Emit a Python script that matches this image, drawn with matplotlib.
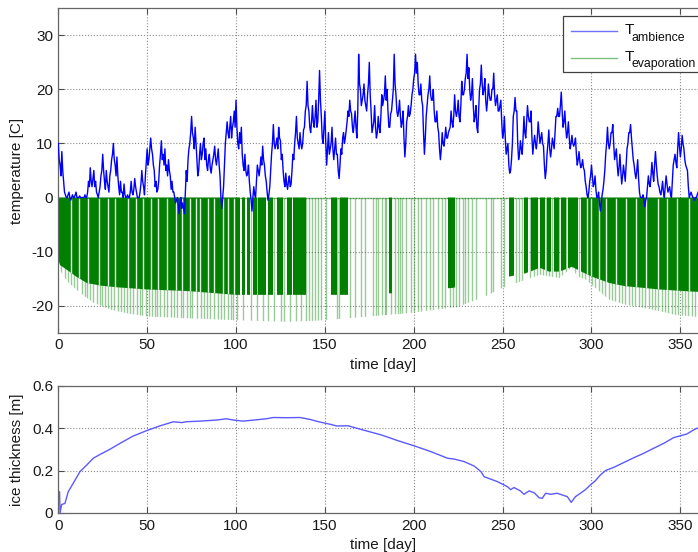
import numpy as np
import matplotlib
matplotlib.use("Agg")
import matplotlib.pyplot as plt
from matplotlib.patches import Polygon, Rectangle
from matplotlib.lines import Line2D

plt.rcParams['font.family'] = ['Liberation Sans', 'DejaVu Sans']
plt.rcParams['axes.unicode_minus'] = False

t_amb = [
    10, 6, 8.5, 3, 0.5, 0, 1, -0.5, 0.5, 0,
    1, 0, 0.3, 0, 0, 0.5, 0, 3, 5.5, 2,
    5, 3, 0.5, 1, 4, 8, 3, 5, 2, 4,
    7, 10, 6, 7.5, 2, 3, 1, 2.5, 0, 0.5,
    0, 3, 0.5, 3.5, 1, 0, 1, 5, 2, 4,
    9, 7, 11, 8, 5, 3, 1.5, 6, 10.5, 8,
    9, 6, 7, 4, 3, 1, -1, 0, -3, 0,
    -1, -3, 5, 7, 10, 15, 11, 13, 7, 5,
    10, 8, 11, 9, 5, 8, 4.5, 7, 9.5, 6,
    9, 4, -2, 2, 10, 14, 11, 15, 13, 16,
    18, 10, 12, 13, 6, 8, 4, 6, 1, -2.5,
    2, 0, 6, 4, 7.5, 9.5, 6, 3, -0.5, 2,
    8, 13.5, 9, 11, 13, 10.5, 8, 3, 4.5, 1.5,
    4, 2.5, 8, 10, 15, 10, 12, 9, 12.5, 16,
    21.5, 16, 12, 17, 13, 18, 14, 23.5, 15, 10,
    16, 6, 12, 9, 13, 7, 11, 8, 3.5, 9,
    11, 10, 12.5, 16, 18, 15.5, 12, 16, 11, 26.5,
    20, 18, 21, 17, 19, 25, 16, 13, 17, 11,
    15, 12, 19, 18, 22.5, 20, 13, 15.5, 18, 26.5,
    19, 15, 18, 13, 16, 7.5, 14, 17, 15.5, 19,
    22, 26.5, 25, 19, 21, 17, 8, 15, 19, 22.5,
    18, 20, 14, 16, 12, 7, 12, 9.5, 13, 11,
    12.5, 16, 13, 19, 15, 18, 14, 21.5, 19, 22,
    26.5, 24, 18, 22, 14, 17, 12, 20, 24.5, 19,
    22, 16, 21, 18, 20, 23, 17, 19, 16, 18,
    11, 15, 8, 10, 4.5, 7, 15, 18.5, 16, 7,
    10.5, 8, 15, 11, 17, 14, 16, 8, 11.5, 9,
    14, 10, 12, 9.5, 3.5, 8, 12.5, 7.5, 11, 9,
    15, 16.5, 15, 19.5, 13, 16, 11, 14, 9, 11.5,
    9.5, 11, 6, 8.5, 5.5, 7, 5, 2, 0, 3,
    6, 2, 4, 0, 1, -2.5, 0.5, 3, 8, 13,
    9, 12, 13.5, 7, 9, 4, 8, 2.5, 6, 3,
    9, 12, 13.5, 9, 6, 3.5, 7, 1, 0, 0.5,
    -1.7, 0, 4, 2, 6.5, 3, 8.5, 4, 2, 0.5,
    3, 0, 4, 1, 2, 0, 6, 8, 5.5, 12,
    7.5, 11.5, 9, 6, 5, 0, 1, 0, -0.5, 0, 1,
]
# ambient temperature [C] at day 0.5, 1.5, ..., 359.5
t_amb_half = [
    7, 4, 5, 1, 0, 0.5, 0, 0, 0, 0.5,
    0, 0, 0, 0, 0, 0, 1, 2, 3, 3.5,
    2, 1, 0, 2, 5, 5, 1.5, 3, 1, 5,
    8, 7, 4, 4, 0.5, 1, 0, 0.5, 0, 0,
    1, 1, 1.5, 2, 0, 0, 2.5, 3, 0.5, 6.5,
    6, 9, 9, 6, 2, 1, 3, 8, 7, 6,
    5, 4, 5, 1.5, 1, 0, -0.5, -1.5, -1, -2,
    -2, 1, 3, 9, 12, 12, 9, 10, 4, 8,
    7, 10, 7, 6, 7, 5.5, 6, 8, 7, 7.5,
    6, 0, 0, 6, 12, 12, 13, 11, 14, 13,
    13, 9, 10, 8, 5, 5, 4.5, 3, -0.5, 0,
    0.5, 3, 5, 5.5, 6, 7, 4, 1, 0.5, 5,
    10, 10, 10, 9, 11, 7, 5, 2, 2.5, 3,
    2, 5, 7, 12, 11, 9, 10, 10, 13, 17,
    17, 13, 14, 14, 15, 13, 18, 18, 11, 13,
    10, 9, 8, 10, 9, 9, 8, 5, 6, 8,
    12, 11, 14, 15, 16, 13, 14, 13, 16, 21,
    17, 19, 18, 16, 21, 19, 12, 14, 13, 12,
    13, 15, 17, 19, 18, 16, 13, 16, 20, 21,
    16, 16, 15, 14, 11, 10, 15, 15, 17, 20,
    23, 23, 21, 19, 18, 12, 11, 17, 20, 19,
    18, 16, 14, 13, 9, 9, 10, 11, 11, 12,
    13, 14, 15, 16, 16, 15, 17, 19, 20, 23,
    22, 20, 19, 17, 15, 13, 16, 21, 21, 20,
    18, 18, 19, 18, 20, 19, 18, 16, 17, 14,
    12, 11, 9, 6, 5, 10, 16, 16, 10, 8,
    9, 11, 12, 14, 15, 14, 11, 10, 10, 11,
    12, 11, 10, 6, 5, 10, 9, 9, 10, 12,
    15, 15, 17, 16, 14, 13, 12, 11, 10, 10,
    10, 8, 7, 6.5, 6, 5.5, 3, 0.5, 1, 4,
    4, 2.5, 1.5, 0, -1, -1, 1.5, 5, 10, 10,
    10, 12, 10, 8, 6, 5.5, 5, 4, 4.5, 6,
    10, 12, 11, 7, 4.5, 5, 3.5, 0, 0, -0.5,
    -0.5, 2, 2.5, 4, 4.5, 6, 6, 2.5, 1, 1.5,
    1, 2, 2.5, 1.5, 0.5, 3, 7, 6.5, 9, 9.5,
    9, 10, 7, 5.5, 2, 0.5, 0.5, 0, 0, 0.5,
]

# evaporation temperature: off value, periods of dense on/off cycling,
# single cycles, white gaps inside dense periods, and lower envelopes
t_evap_off = 0.0
dense_periods = [
    (0, 102.2), (103.2, 105), (106, 108), (109.4, 111.6), (112.5, 116.9),
    (118.2, 121), (122.8, 126.6), (128.5, 131.3), (132.2, 139.3),
    (153.7, 156.6), (158.4, 163), (186, 188), (219.3, 223),
    (253.7, 256.3), (262, 264.4), (266.2, 270), (270.9, 273.7),
    (275, 277.4), (278.7, 282), (283, 285.8), (286.8, 292.4), (294.2, 365),
]
gap_days = [
    7, 11.5, 16.8, 22.8, 27.7, 32, 39, 43.8, 47.8, 52.3, 56, 61, 66, 69.8,
    74, 77.4, 80, 84, 87.7, 92.5, 95.5, 99,
    297.6, 299.8, 304, 308.2, 313.8, 319.4, 325, 330.6, 337.5, 342.7,
    348.3, 354.9, 361,
]
cycle_days = [
    1.5, 3.8, 5.7, 7.2, 8.9, 10.8, 13.2, 15.1, 16.4, 17.9, 19.8, 21.7, 23.2,
    24.5, 26.4, 27.7, 29.6, 31.5, 33.4, 35.3, 36.8, 38.7, 40.6, 42.1, 44.3,
    45.8, 47.2, 49.1, 50.9, 52.8, 54.2, 55.7, 57.5, 59.4, 61.3, 63.2, 65.1,
    67.0, 68.9, 70.4, 72.3, 74.0, 75.5, 78.3, 80.2, 82.1, 83.6, 85.5, 87.7,
    89.6, 91.5, 93.4, 95.3, 97.2, 98.5, 100.4, 104.1, 108.4, 112, 115.4,
    117.8, 121.3, 125.1, 127.2, 130.3, 133.7, 136.3, 139.3, 141, 142.7,
    144.6, 146.4, 147.8, 150.9, 156.6, 158.1, 164, 166.9, 170.2, 172.5,
    176.8, 178.7, 180, 182.4, 183.7, 184.6, 187.1, 189.3, 191.2, 192.1,
    193.6, 195.9, 198.7, 200.2, 202.4, 204.3, 207.1, 209, 210.9, 213.7,
    216.1, 217.4, 220.2, 222.1, 224, 225.5, 227.7, 229, 230.8, 233, 235.1,
    240.7, 243.3, 244.8, 248.9, 250.9, 257.5, 259.3, 260.8, 265.3, 267.5,
    269.4, 271.3, 272.8, 274.3, 276.1, 278, 279.9, 281.7, 283.6, 285.4,
    287.3, 289.2, 291, 292.9, 294.8, 296.6, 298.5, 300.4, 302.2, 304.1,
    306, 307.8, 309.7, 311.6, 313.4, 315.3, 317.2, 319, 320.9, 322.8,
    324.6, 326.5, 328.4, 330.2, 332.1, 334, 335.8, 337.7, 339.6, 341.4,
    343.3, 345.1, 347, 348.9, 350.7, 352.6, 354.5, 356.3, 358.2,
]
dense_floor_days = [0, 1, 5, 10, 16, 24, 33, 50, 73, 100, 140, 165, 188, 222,
                    254, 263, 271, 276, 282, 289, 293, 300, 310, 319, 329,
                    338, 357, 365]
dense_floor = [-11.5, -12.5, -13.4, -14.6, -15.8, -16.3, -16.6, -17.0, -17.3,
               -18.0, -18.0, -18.0, -17.7, -16.7, -14.6, -14.0, -13.0, -13.7,
               -13.7, -12.8, -13.5, -14.6, -15.8, -16.4, -16.7, -17.0, -17.4,
               -17.5]
cycle_floor_days = [0, 2, 5, 10, 15, 20, 30, 40, 50, 70, 100, 130, 150, 175,
                    200, 225, 240, 250, 263, 271, 282, 289, 292, 297, 301,
                    310, 319, 329, 338, 347, 357, 365]
cycle_floor = [-13, -14, -15.5, -17, -18.3, -19.5, -20.8, -21.5, -22, -22.3,
               -22.7, -23, -22.7, -22, -21.3, -20.2, -18.3, -16.7, -15.2,
               -14.3, -14.9, -12.9, -14.6, -15.2, -16.4, -18.9, -19.8, -20.4,
               -21, -21.7, -22, -22.3]

# ice thickness [m]
ice_days = [0, 0.7, 1.0, 1.9, 3.75, 5.6, 8.4, 12.2, 16, 19.7, 23.5, 29, 34.7,
            42.2, 49.7, 57, 64.7, 69.4, 72, 79.7, 89, 94.7, 98.5, 104, 110,
            117, 121, 128.5, 136, 141.6, 147, 153, 156.7, 163, 172, 181.7,
            191, 200.4, 209.7, 219, 222.8, 228.4, 234, 237.8, 239.6, 247,
            252.7, 254.6, 256.4, 260, 262, 264.9, 267.8, 270.5, 272.3, 274.2,
            277, 280.7, 283.5, 286.4, 288.6, 291, 293.8, 296.6, 299.4, 302.2,
            305, 307.9, 312.5, 318, 323.7, 329.3, 335, 340.6, 346.2, 350,
            353.6, 357.4, 359.3, 362, 365]
ice = [0.1, 0.1, 0.0, 0.04, 0.045, 0.1, 0.14, 0.195, 0.226, 0.258, 0.276, 0.3,
       0.328, 0.363, 0.388, 0.41, 0.43, 0.426, 0.43, 0.433, 0.438, 0.444,
       0.438, 0.433, 0.438, 0.444, 0.45, 0.449, 0.45, 0.441, 0.429, 0.418,
       0.41, 0.411, 0.39, 0.368, 0.341, 0.316, 0.289, 0.258, 0.254, 0.242,
       0.221, 0.195, 0.171, 0.148, 0.124, 0.11, 0.12, 0.104, 0.088, 0.104,
       0.095, 0.072, 0.069, 0.093, 0.088, 0.093, 0.085, 0.077, 0.05, 0.077,
       0.093, 0.11, 0.132, 0.152, 0.179, 0.2, 0.215, 0.237, 0.26, 0.281,
       0.305, 0.328, 0.355, 0.364, 0.372, 0.391, 0.399, 0.405, 0.41]

x_max = 365
green = '#007f00'
blue = '#0000ff'
fs = 11
W, H = 698, 552


def fx(px):
    return px / W


def fy(py):
    return 1 - py / H


def style_axes(ax, xlabel_y):
    ax.set_xlim(0, x_max)
    ax.set_xticks(range(0, 351, 50))
    ax.grid(True, linestyle=':', color='0.55', linewidth=0.8)
    ax.set_axisbelow(True)
    ax.tick_params(direction='in', top=True, right=True, length=4,
                   width=0.8, labelsize=fs, colors='0.3', labelcolor='0.1')
    ax.tick_params(axis='x', pad=4)
    ax.tick_params(axis='y', pad=3.6)
    for s in ax.spines.values():
        s.set_color('0.4')
        s.set_linewidth(0.9)
    ax.set_xlabel('time [day]', fontsize=fs, color='0.1')
    ax.xaxis.set_label_coords(0.5, xlabel_y)


fig = plt.figure(figsize=(W / 100, H / 100), dpi=100)
ax1 = fig.add_axes([0.0835, 0.3973, 0.9294, 0.5877])
ax2 = fig.add_axes([0.0835, 0.0707, 0.9294, 0.2306])

# --- top panel
ax1.set_ylim(-25, 35)
ax1.set_yticks(range(-20, 31, 10))
style_axes(ax1, -0.079)
ax1.set_ylabel('temperature [C]', fontsize=fs, color='0.1')
ax1.yaxis.set_label_coords(-0.053, 0.5)

cycle_clip = Polygon([(0, t_evap_off)] + list(zip(cycle_floor_days, cycle_floor))
                     + [(x_max, t_evap_off)], closed=True,
                     transform=ax1.transData)
dense_clip = Polygon([(0, t_evap_off)] + list(zip(dense_floor_days, dense_floor))
                     + [(x_max, t_evap_off)], closed=True,
                     transform=ax1.transData)

cyc = ax1.vlines(cycle_days, -25, t_evap_off, color=green, alpha=0.4,
                 linewidth=1.0, zorder=1.5)
cyc.set_clip_path(cycle_clip)

for a, b in dense_periods:
    sp = ax1.axvspan(a, b, color=green, linewidth=0, zorder=1.6)
    sp.set_clip_path(dense_clip)

gp = ax1.vlines(gap_days, -25, t_evap_off, color='white', alpha=0.9,
                linewidth=1.0, zorder=1.7)
gp.set_clip_path(dense_clip)

ax1.plot([0, x_max], [t_evap_off, t_evap_off], color=green, alpha=0.45,
         linewidth=1.0, zorder=1.8)

amb_x = np.concatenate([np.arange(len(t_amb)), np.arange(len(t_amb_half)) + 0.5])
amb_y = np.concatenate([t_amb, t_amb_half])
order = np.argsort(amb_x)
ax1.plot(amb_x[order], amb_y[order], color=blue, linewidth=1.0, zorder=3)

# legend (box runs past the right edge of the image, as in the original)
fig.add_artist(Rectangle((fx(563.3), fy(72)), fx(706) - fx(563.3),
                         fy(16.3) - fy(72), transform=fig.transFigure,
                         facecolor='white', edgecolor='0.25', linewidth=0.9,
                         zorder=5))
leg_rows = [('ambience', '#7070ff', 31.3, 34.0),
            ('evaporation', '#80c080', 58.0, 60.7)]
for sub, col, y_line, y_base in leg_rows:
    fig.add_artist(Line2D([fx(571), fx(617.3)], [fy(y_line), fy(y_line)],
                          transform=fig.transFigure, color=col,
                          linewidth=1.0, zorder=6))
    fig.text(fx(624.3), fy(y_base), 'T', fontsize=11, color='0.05',
             va='baseline', ha='left', zorder=6)
    fig.text(fx(631.7), fy(y_base + 6.8), sub, fontsize=8.8, color='0.05',
             va='baseline', ha='left', zorder=6)

# --- bottom panel
ax2.set_ylim(0, 0.6)
ax2.set_yticks([0, 0.2, 0.4, 0.6])
ax2.set_yticklabels(['0', '0.2', '0.4', '0.6'])
style_axes(ax2, -0.199)
ax2.set_ylabel('ice thickness [m]', fontsize=fs, color='0.1')
ax2.yaxis.set_label_coords(-0.053, 0.5)
ax2.plot(ice_days, ice, color='#5a5aff', linewidth=1.0)

fig.savefig('out.png', dpi=100)
